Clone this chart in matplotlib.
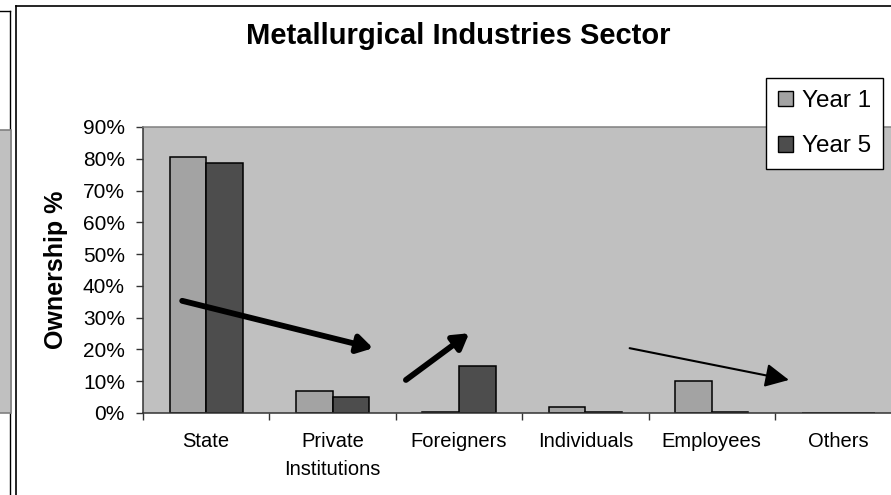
import matplotlib
matplotlib.use('Agg')
from matplotlib import pyplot as plt
from matplotlib.lines import Line2D
from matplotlib.patches import Rectangle, Patch
import numpy as np

plt.rcParams['font.family'] = ['Liberation Sans', 'DejaVu Sans']

# data (ownership share, %)
categories = ['State', 'Private\nInstitutions', 'Foreigners', 'Individuals', 'Employees', 'Others']
year1 = [80.5, 6.9, 0.3, 1.9, 10.0, 0.0]
year5 = [78.6, 4.9, 14.8, 0.3, 0.3, 0.0]
series_names = ['Year 1', 'Year 5']
yticks = [0, 10, 20, 30, 40, 50, 60, 70, 80, 90]
ytick_labels = [f'{v}%' for v in yticks]

# trend arrows: (start, end) in data units, line width
arrows = [
    ((-0.19, 35.3), (1.32, 20.4), 4.2),
    ((1.58, 10.4), (2.08, 25.1), 4.2),
    ((3.35, 20.4), (4.61, 10.4), 1.5),
]

W, H = 891, 495
fig = plt.figure(figsize=(W / 100, H / 100), dpi=100)

def fx(x):
    return x / W

def fy(y):
    return 1 - y / H

# bits of the neighbouring chart and the chart frame
fig.add_artist(Line2D([fx(0), fx(9.5)], [fy(10.5), fy(10.5)], color='black', lw=1.0))
fig.add_artist(Line2D([fx(9.5), fx(9.5)], [fy(10.5), fy(495)], color='black', lw=1.0))
fig.add_artist(Rectangle((fx(-2), fy(413)), fx(12.5), fy(130) - fy(413),
                         facecolor='#c0c0c0', edgecolor='#808080', lw=1.2, zorder=3))
fig.add_artist(Line2D([fx(15.5), fx(15.5)], [fy(5.5), fy(495)], color='black', lw=1.2))
fig.add_artist(Line2D([fx(15.5), fx(891)], [fy(5.5), fy(5.5)], color='black', lw=1.2))

ax = fig.add_axes([fx(143), fy(413), (901.4 - 143) / W, (413 - 127) / H])
ax.set_facecolor('#c0c0c0')

x = np.arange(len(categories))
bw = 0.29
ax.bar(x - bw / 2, year1, bw, color='#a3a3a3', edgecolor='black', lw=1.1, zorder=2)
ax.bar(x + bw / 2, year5, bw, color='#4d4d4d', edgecolor='black', lw=1.1, zorder=2)

for (x0, y0), (x1, y1), lw in arrows:
    hl = 0.75 if lw > 2 else 1.2
    hw = 0.45 if lw > 2 else 0.6
    ax.annotate('', xy=(x1, y1), xytext=(x0, y0),
                arrowprops=dict(arrowstyle=f'-|>,head_length={hl},head_width={hw}',
                                lw=lw, color='black', shrinkA=0, shrinkB=0,
                                mutation_scale=12), zorder=4)

ax.set_xlim(-0.5, len(categories) - 0.5)
ax.set_ylim(0, 90)
ax.set_yticks(yticks)
ax.set_yticklabels(ytick_labels, fontsize=15)
ax.tick_params(axis='y', direction='out', length=5, width=1, color='#333333', pad=8)

ax.set_xticks(x)
ax.set_xticklabels(categories, fontsize=14.5, linespacing=1.6)
ax.set_xticks(np.arange(len(categories) + 1) - 0.5, minor=True)
ax.tick_params(axis='x', which='major', length=0, pad=14)
ax.tick_params(axis='x', which='minor', direction='out', length=5, width=1, color='#333333')

for side in ['left', 'bottom']:
    ax.spines[side].set_color('#333333')
    ax.spines[side].set_linewidth(1.1)
ax.spines['top'].set_color('#808080')
ax.spines['top'].set_linewidth(1.1)
ax.spines['right'].set_visible(False)

ax.set_ylabel('Ownership %', fontsize=18, fontweight='bold')
ax.yaxis.set_label_coords((68 - 143) / (901.4 - 143), 0.5)

fig.text(fx(458), fy(36), 'Metallurgical Industries Sector', fontsize=21, fontweight='bold',
         ha='center', va='center')

handles = [Patch(facecolor='#a3a3a3', edgecolor='black', lw=1),
           Patch(facecolor='#4d4d4d', edgecolor='black', lw=1)]
leg = ax.legend(handles, series_names, loc='upper right',
                bbox_to_anchor=(fx(883), fy(78)), bbox_transform=fig.transFigure,
                fontsize=17.5, handlelength=0.62, handleheight=0.62, handletextpad=0.35,
                labelspacing=0.95, borderpad=0.5, borderaxespad=0, fancybox=False,
                framealpha=1, edgecolor='black')
leg.get_frame().set_linewidth(1.0)
leg.set_zorder(5)

fig.savefig('out.png', dpi=100)
